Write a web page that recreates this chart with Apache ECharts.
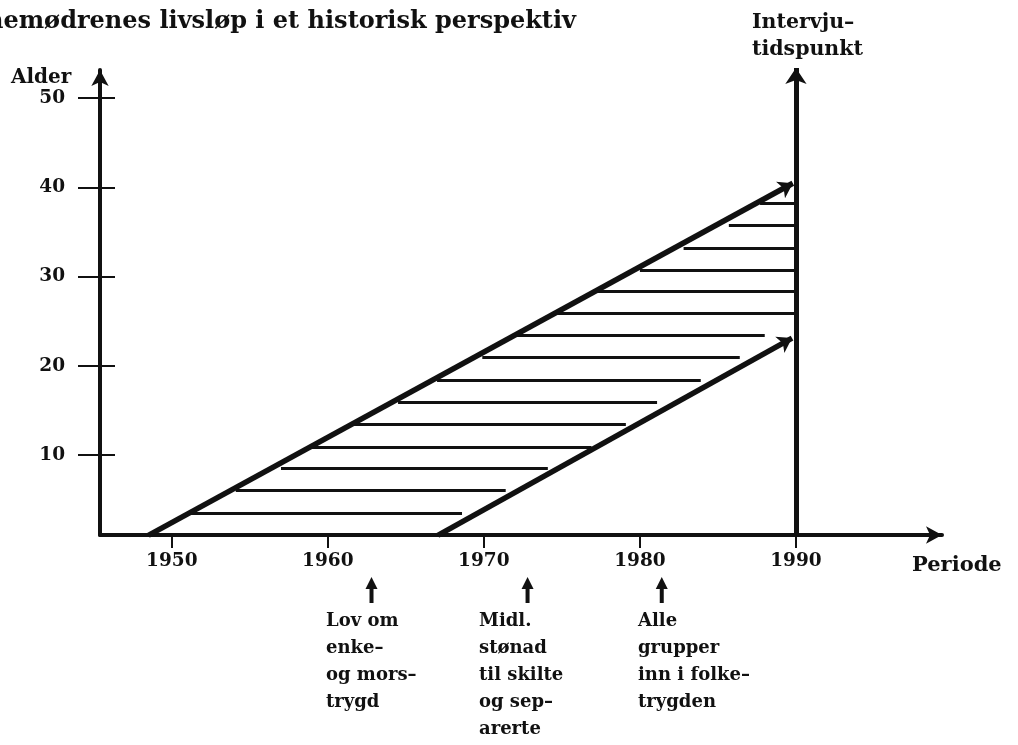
<!DOCTYPE html>
<html>
<head>
<meta charset="utf-8">
<script src="https://cdn.jsdelivr.net/npm/echarts@6/dist/echarts.min.js"></script>
<style>
  html, body { margin: 0; background: #fff; }
  #chart { width: 1018px; height: 745px; }
</style>
</head>
<body>
<div id="chart"></div>
<script>
// akser
var aarTicks = [1950, 1960, 1970, 1980, 1990];
var alderTicks = [10, 20, 30, 40, 50];

// kohortgrenser (år, alder)
var eldsteKohort = [[1948.5, 1], [1989.8, 40.45]];
var yngsteKohort = [[1967.05, 1], [1989.75, 23.1]];
var intervjuAar = 1990;
var intervjuTopp = 53.36;

// skravering mellom kohortene
var skraverAlder = [3.5, 6, 8.5, 10.9, 13.4, 15.9, 18.4, 20.9, 23.4, 25.9, 28.3, 30.7, 33.2, 35.8, 38.2];
var skraverFra = [1951.2, 1954.1, 1957.0, 1958.9, 1961.6, 1964.5, 1967.0, 1969.9, 1971.9, 1974.7, 1977.2, 1980.0, 1982.8, 1985.7, 1987.7];
var skraverTil = [1968.6, 1971.4, 1974.1, 1976.9, 1979.1, 1981.1, 1983.9, 1986.4, 1988.0, 1990, 1990, 1990, 1990, 1990, 1990];

// reformer
var reformAar = [1962.8, 1972.8, 1981.4];
var reformTekst = [
  ['Lov om', 'enke–', 'og mors–', 'trygd'],
  ['Midl.', 'stønad', 'til skilte', 'og sep–', 'arerte'],
  ['Alle', 'grupper', 'inn i folke–', 'trygden']
];

var xMin = 1945.4, xMax = 1999.36;
var yMin = 1.04, yMax = 53.14;
var INK = '#111';

var chart = echarts.init(document.getElementById('chart'));

var skravering = skraverAlder.map(function (a, i) {
  return { coords: [[skraverFra[i], a], [skraverTil[i], a]] };
});

var etikett = {
  color: INK,
  fontFamily: 'DejaVu Serif',
  fontWeight: 'bold',
  fontSize: 18.5,
  formatter: function (v) { return String(v); }
};

var option = {
  animation: false,
  grid: { left: 100, right: 76, top: 70, bottom: 210 },
  xAxis: {
    type: 'value',
    min: xMin,
    max: xMax,
    splitLine: { show: false },
    axisLine: { lineStyle: { color: INK, width: 4 }, symbol: ['none', 'arrow'], symbolSize: [13, 16] },
    axisTick: { customValues: aarTicks, length: 13, lineStyle: { color: INK, width: 2 } },
    axisLabel: Object.assign({ customValues: aarTicks, margin: 17 }, etikett)
  },
  yAxis: [{
    type: 'value',
    min: yMin,
    max: yMax,
    splitLine: { show: false },
    axisLine: { lineStyle: { color: INK, width: 4 }, symbol: ['none', 'arrow'], symbolSize: [13, 16] },
    axisTick: { customValues: alderTicks, length: 22, lineStyle: { color: INK, width: 2 } },
    axisLabel: Object.assign({ customValues: alderTicks, margin: 35 }, etikett)
  }, {
    type: 'value',
    min: yMin,
    max: yMax,
    position: 'left',
    splitLine: { show: false },
    axisLine: { show: false },
    axisLabel: { show: false },
    axisTick: { customValues: alderTicks, inside: true, length: 15, lineStyle: { color: INK, width: 2 } }
  }],
  series: [{
    type: 'lines',
    coordinateSystem: 'cartesian2d',
    lineStyle: { color: INK, width: 3, opacity: 1 },
    data: skravering,
    z: 2
  }, {
    type: 'lines',
    coordinateSystem: 'cartesian2d',
    symbol: ['none', 'arrow'],
    symbolSize: 14,
    lineStyle: { color: INK, width: 5.5, opacity: 1 },
    data: [{ coords: eldsteKohort }, { coords: yngsteKohort }],
    z: 3
  }, {
    type: 'lines',
    coordinateSystem: 'cartesian2d',
    clip: false,
    symbol: ['none', 'arrow'],
    symbolSize: [13, 16],
    lineStyle: { color: INK, width: 5, opacity: 1 },
    data: [{ coords: [[intervjuAar, yMin], [intervjuAar, intervjuTopp]] }],
    z: 4
  }]
};
chart.setOption(option);

function tekst(t, x, y, size) {
  return {
    type: 'text', x: x, y: y, z: 10,
    style: {
      text: t, font: 'bold ' + size + 'px "DejaVu Serif"', fill: INK,
      verticalAlign: 'middle', align: 'left'
    }
  };
}

var grafikk = [
  tekst('Alenemødrenes livsløp i et historisk perspektiv', -57, 22, 24),
  tekst('Alder', 11, 78, 20),
  tekst('Intervju–', 752, 23, 20.5),
  tekst('tidspunkt', 752, 50, 20.5),
  tekst('Periode', 912, 566, 21)
];

var tekstX = [326, 479, 638];
reformAar.forEach(function (aar, i) {
  var x = chart.convertToPixel({ xAxisIndex: 0 }, aar);
  grafikk.push({ type: 'line', z: 10, shape: { x1: x, y1: 586, x2: x, y2: 603 }, style: { stroke: INK, lineWidth: 4 } });
  grafikk.push({ type: 'polygon', z: 10, shape: { points: [[x, 577], [x - 6, 589], [x + 6, 589]] }, style: { fill: INK } });
  reformTekst[i].forEach(function (linje, k) {
    grafikk.push(tekst(linje, tekstX[i], 621 + 27 * k, 18));
  });
});

chart.setOption({ graphic: grafikk });
</script>
</body>
</html>
